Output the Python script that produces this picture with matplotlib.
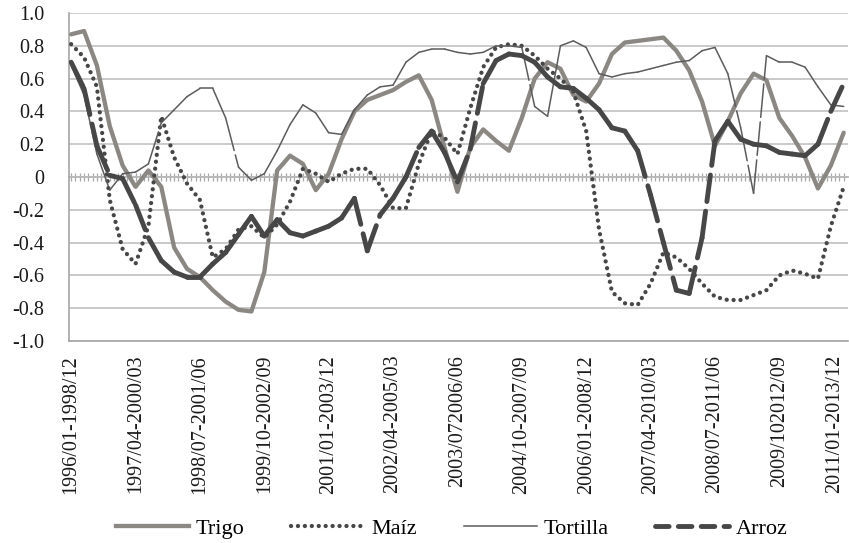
import numpy as np
import matplotlib
matplotlib.use('Agg')
from matplotlib import pyplot as plt
from matplotlib.collections import LineCollection
from matplotlib.lines import Line2D

plt.rcParams['font.family'] = ['Liberation Serif', 'DejaVu Serif']

# ventanas moviles de 36 meses (181 en total), una lectura cada 3 ventanas
ventana = np.arange(0, 181, 3)

trigo = [0.87, 0.89, 0.68, 0.31, 0.07, -0.06, 0.04, -0.06, -0.43, -0.56,
         -0.61, -0.69, -0.76, -0.81, -0.82, -0.58, 0.04, 0.13, 0.08, -0.08,
         0.02, 0.23, 0.40, 0.47, 0.50, 0.53, 0.58, 0.62, 0.47, 0.18,
         -0.09, 0.18, 0.29, 0.22, 0.16, 0.36, 0.60, 0.70, 0.66, 0.50,
         0.46, 0.57, 0.75, 0.82, 0.83, 0.84, 0.85, 0.77, 0.65, 0.46,
         0.19, 0.34, 0.51, 0.63, 0.59, 0.36, 0.25, 0.12, -0.07, 0.07, 0.27]

maiz = [0.81, 0.73, 0.55, -0.14, -0.44, -0.53, -0.30, 0.37, 0.12, -0.04,
        -0.14, -0.49, -0.44, -0.32, -0.30, -0.37, -0.29, -0.15, 0.05, 0.02,
        -0.03, 0.02, 0.05, 0.05, -0.05, -0.19, -0.19, 0.08, 0.28, 0.24,
        0.14, 0.42, 0.67, 0.79, 0.81, 0.80, 0.74, 0.66, 0.60, 0.52,
        0.28, -0.32, -0.70, -0.77, -0.78, -0.65, -0.46, -0.49, -0.56, -0.65,
        -0.73, -0.75, -0.75, -0.72, -0.69, -0.60, -0.57, -0.59, -0.62, -0.30, -0.06]

tortilla = [0.68, 0.50, 0.14, -0.08, 0.02, 0.03, 0.08, 0.33, 0.41, 0.49,
            0.54, 0.54, 0.36, 0.06, -0.02, 0.02, 0.16, 0.32, 0.44, 0.39,
            0.27, 0.26, 0.41, 0.50, 0.55, 0.56, 0.70, 0.76, 0.78, 0.78,
            0.76, 0.75, 0.76, 0.80, 0.80, 0.79, 0.43, 0.37, 0.80, 0.83,
            0.79, 0.63, 0.61, 0.63, 0.64, 0.66, 0.68, 0.70, 0.71, 0.77,
            0.79, 0.63, 0.30, -0.10, 0.74, 0.70, 0.70, 0.67, 0.55, 0.44, 0.43]

arroz = [0.70, 0.54, 0.19, 0.01, -0.01, -0.17, -0.37, -0.51, -0.58, -0.61,
         -0.61, -0.53, -0.46, -0.35, -0.24, -0.36, -0.26, -0.34, -0.36, -0.33,
         -0.30, -0.25, -0.13, -0.45, -0.23, -0.13, 0.00, 0.18, 0.28, 0.15,
         -0.03, 0.17, 0.57, 0.71, 0.75, 0.74, 0.70, 0.61, 0.55, 0.54,
         0.48, 0.41, 0.30, 0.28, 0.16, -0.11, -0.40, -0.69, -0.71, -0.37,
         0.22, 0.34, 0.23, 0.20, 0.19, 0.15, 0.14, 0.13, 0.20, 0.40, 0.57]

etiquetas = ['1996/01-1998/12', '1997/04-2000/03', '1998/07-2001/06',
             '1999/10-2002/09', '2001/01-2003/12', '2002/04-2005/03',
             '2003/072006/06', '2004/10-2007/09', '2006/01-2008/12',
             '2007/04-2010/03', '2008/07-2011/06', '2009/102012/09',
             '2011/01-2013/12']
pos_etiquetas = np.arange(0, 181, 15)

yvals = [1.0, 0.8, 0.6, 0.4, 0.2, 0.0, -0.2, -0.4, -0.6, -0.8, -1.0]
ylabels = ['1.0', '0.8', '0.6', '0.4', '0.2', '0', '-0.2', '-0.4', '-0.6', '-0.8', '-1.0']

c_trigo = '#8b8884'
c_maiz = '#474747'
c_tort = '#5c5c5c'
c_arroz = '#474747'
c_grid = '#bcbcbc'

fig = plt.figure(figsize=(8.49, 5.43), dpi=100)
ax = fig.add_axes([69/849, 1-341/543, 779/849, 328/543])


def tramos(x, y):
    # cada tramo por separado para que el patron de guiones empiece de nuevo
    pts = np.column_stack([x, y])
    return np.stack([pts[:-1], pts[1:]], axis=1)


ax.plot(ventana, trigo, color=c_trigo, lw=3.1, solid_capstyle='round',
        solid_joinstyle='round', zorder=3)
ax.plot(ventana, maiz, color=c_maiz, lw=3.1, linestyle=(0, (0.01, 1.6)),
        dash_capstyle='round', zorder=4)
ax.add_collection(LineCollection(tramos(ventana, tortilla), colors=c_tort,
                                 linewidths=1.1, linestyles=(0, (22, 3)),
                                 capstyle='round', zorder=5))
ax.add_collection(LineCollection(tramos(ventana, arroz), colors=c_arroz,
                                 linewidths=3.5, linestyles=(0, (5.5, 2.0)),
                                 capstyle='round', zorder=6))

ax.set_xlim(-0.5, 181)
ax.set_ylim(-1, 1)
ax.set_yticks(yvals, labels=ylabels)
ax.set_xticks(pos_etiquetas, labels=etiquetas, rotation=90)
ax.get_xticklabels()[-1].set_ha('right')  # la ultima queda pegada al borde
ax.tick_params(axis='y', length=0, pad=18, labelsize=14.5, labelcolor='#1a1a1a')
ax.tick_params(axis='x', length=0, pad=10, labelsize=14.5, labelcolor='#1a1a1a')
ax.yaxis.grid(True, color=c_grid, lw=1.1)
ax.set_axisbelow(True)
for s in ['top', 'right']:
    ax.spines[s].set_visible(False)
for s in ['left', 'bottom']:
    ax.spines[s].set_color('#a5a5a5')
    ax.spines[s].set_linewidth(1.2)

# eje horizontal en cero con una marca por ventana
eje0 = ax.secondary_xaxis(0.5)
eje0.set_xticks(np.arange(181))
eje0.xaxis.set_ticklabels([])
eje0.tick_params(direction='inout', length=6, width=0.9, color='#a8a8a8',
                 labelbottom=False, labeltop=False)
for s in eje0.spines.values():
    s.set_color('#a8a8a8')
    s.set_linewidth(1.2)

handles = [
    Line2D([], [], color=c_trigo, lw=3.1),
    Line2D([], [], color=c_maiz, lw=3.1, linestyle=(0, (0.01, 1.6)), dash_capstyle='round'),
    Line2D([], [], color=c_tort, lw=1.1),
    Line2D([], [], color=c_arroz, lw=3.5, linestyle=(0, (2.8, 1.9)), dash_capstyle='round'),
]
fig.legend(handles, ['Trigo', 'Maíz', 'Tortilla', 'Arroz'], loc='center',
           bbox_to_anchor=(0.532, 0.026), ncol=4, frameon=False, fontsize=16,
           handlelength=3.3, handletextpad=0.3, columnspacing=2.1)

fig.savefig('out.png', dpi=100)
